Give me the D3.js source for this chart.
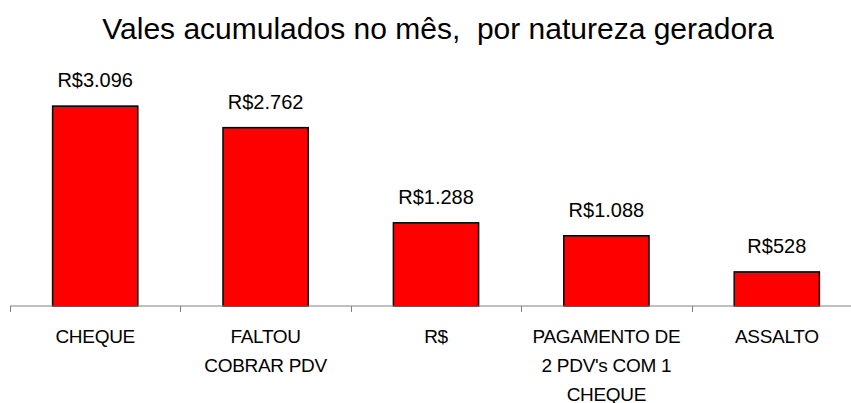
<!DOCTYPE html>
<html>
<head>
<meta charset="utf-8">
<script src="https://cdn.jsdelivr.net/npm/d3@7"></script>
<style>
  body { margin: 0; background: #fff; }
  text { font-family: "Liberation Sans", Arial, sans-serif; fill: #000; }
</style>
</head>
<body>
<div id="chart"></div>
<script>
'use strict';

var title = "Vales acumulados no mês,  por natureza geradora";
var categories = ["CHEQUE", "FALTOU COBRAR PDV", "R$", "PAGAMENTO DE 2 PDV's COM 1 CHEQUE", "ASSALTO"];
var categoryLines = [
  ["CHEQUE"],
  ["FALTOU", "COBRAR PDV"],
  ["R$"],
  ["PAGAMENTO DE", "2 PDV's COM 1", "CHEQUE"],
  ["ASSALTO"]
];
var values = [3096, 2762, 1288, 1088, 528];

var width = 851, height = 403;
var margins = { top: 80, left: 10, right: -11, bottom: 97 };

var svg = d3.select("#chart").append("svg")
  .attr("width", width)
  .attr("height", height);

var xScale = d3.scaleBand()
  .domain(categories)
  .range([margins.left, width - margins.right])
  .paddingInner(0.5)
  .paddingOuter(0.25);

// category slots, used for the tick marks between categories
var slotScale = d3.scaleBand()
  .domain(categories)
  .range([margins.left, width - margins.right]);

var yScale = d3.scaleLinear()
  .domain([0, 3500])
  .range([height - margins.bottom, margins.top]);

var br = d3.formatLocale({ decimal: ",", thousands: ".", grouping: [3], currency: ["R$", ""] });
var money = br.format("$,.0f");

svg.append("text")
  .attr("x", 438)
  .attr("y", 39)
  .attr("text-anchor", "middle")
  .style("font-size", "30px")
  .style("white-space", "pre")
  .text(title);

// bars
svg.selectAll(".bar")
  .data(values)
  .enter()
  .append("rect")
  .attr("class", "bar")
  .attr("x", function(d, i) { return xScale(categories[i]); })
  .attr("y", function(d) { return yScale(d); })
  .attr("width", xScale.bandwidth())
  .attr("height", function(d) { return yScale(0) - yScale(d); })
  .style("fill", "#ff0000")
  .style("stroke", "#000")
  .style("stroke-width", 1.5);

// value labels
svg.selectAll(".value")
  .data(values)
  .enter()
  .append("text")
  .attr("class", "value")
  .attr("x", function(d, i) { return xScale(categories[i]) + xScale.bandwidth() / 2; })
  .attr("y", function(d) { return yScale(d) - 19; })
  .attr("text-anchor", "middle")
  .style("font-size", "20px")
  .text(function(d) { return money(d); });

// x axis: line + ticks at category boundaries
var axisG = svg.append("g")
  .attr("class", "axis axis--x")
  .attr("transform", "translate(0," + yScale(0) + ")");

axisG.append("line")
  .attr("x1", margins.left)
  .attr("x2", width - margins.right)
  .style("stroke", "#808080")
  .style("stroke-width", 1);

axisG.selectAll(".tick")
  .data(categories)
  .enter()
  .append("line")
  .attr("class", "tick")
  .attr("x1", function(d) { return Math.round(slotScale(d)) + 0.5; })
  .attr("x2", function(d) { return Math.round(slotScale(d)) + 0.5; })
  .attr("y1", 0)
  .attr("y2", 6)
  .style("stroke", "#808080");

var labels = axisG.selectAll(".cat")
  .data(categoryLines)
  .enter()
  .append("text")
  .attr("class", "cat")
  .attr("text-anchor", "middle")
  .style("font-size", "19px")
  .style("letter-spacing", "-0.3px");

labels.selectAll("tspan")
  .data(function(d, i) { return d.map(function(line) { return { line: line, i: i }; }); })
  .enter()
  .append("tspan")
  .attr("x", function(d) { return slotScale(categories[d.i]) + slotScale.bandwidth() / 2; })
  .attr("y", function(d, j) { return 37 + j * 29; })
  .text(function(d) { return d.line; });
</script>
</body>
</html>
